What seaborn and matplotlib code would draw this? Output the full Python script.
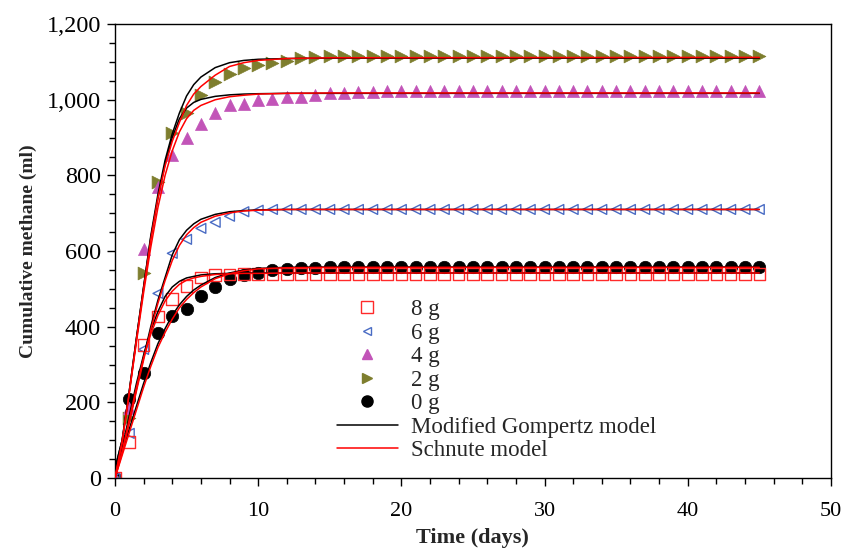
import matplotlib
matplotlib.use("Agg")
import matplotlib.pyplot as plt
from matplotlib.lines import Line2D
from matplotlib.ticker import MultipleLocator, FuncFormatter
import seaborn as sns

# ---- measured data (days 0..45) ----
days = list(range(46))
g8 = [0, 96, 351, 427, 474, 507, 530, 536, 538, 539,
      540, 540, 540, 540, 540, 540, 540, 540, 540, 540,
      540, 540, 540, 540, 540, 540, 540, 540, 540, 540,
      540, 540, 540, 540, 540, 540, 540, 540, 540, 540,
      540, 540, 540, 540, 540, 540]
g6 = [0, 118, 340, 488, 594, 631, 660, 676, 692, 704,
      708, 710, 710, 710, 710, 710, 710, 710, 710, 710,
      710, 710, 710, 710, 710, 710, 710, 710, 710, 710,
      710, 710, 710, 710, 710, 710, 710, 710, 710, 710,
      710, 710, 710, 710, 710, 710]
g4 = [0, 186, 605, 770, 854, 900, 937, 964, 985, 989,
      999, 1001, 1006, 1008, 1012, 1017, 1018, 1020, 1021, 1022,
      1022, 1022, 1022, 1022, 1022, 1022, 1022, 1022, 1022, 1022,
      1022, 1022, 1022, 1022, 1022, 1022, 1022, 1022, 1022, 1022,
      1022, 1022, 1022, 1022, 1022, 1022]
g2 = [0, 158, 541, 783, 911, 964, 1012, 1047, 1068, 1083,
      1092, 1098, 1103, 1110, 1114, 1116, 1116, 1116, 1116, 1116,
      1116, 1116, 1116, 1116, 1116, 1116, 1116, 1116, 1116, 1116,
      1116, 1116, 1116, 1116, 1116, 1116, 1116, 1116, 1116, 1116,
      1116, 1116, 1116, 1116, 1116, 1116]
g0 = [0, 210, 278, 384, 429, 448, 481, 504, 525, 537,
      541, 550, 553, 555, 556, 557, 558, 558, 558, 558,
      558, 558, 558, 558, 558, 558, 558, 558, 558, 558,
      558, 558, 558, 558, 558, 558, 558, 558, 558, 558,
      558, 558, 558, 558, 558, 558]

# ---- model curves ----
t_fit = [0, 0.5, 1, 1.5, 2, 2.5, 3, 3.5, 4, 4.5, 5, 5.5, 6, 7, 8, 9, 10, 12, 15, 45]
gomp_g2 = [25, 100, 230, 370, 505, 640, 750, 840, 910, 965, 1010, 1040, 1060, 1085, 1098, 1104, 1107, 1109, 1110, 1110]
schn_g2 = [0, 95, 225, 365, 500, 630, 740, 825, 890, 940, 985, 1015, 1035, 1065, 1088, 1098, 1104, 1109, 1111, 1112]
gomp_g4 = [25, 100, 230, 370, 505, 635, 740, 830, 900, 950, 978, 993, 1001, 1009, 1013, 1015, 1016, 1017, 1017, 1017]
schn_g4 = [0, 95, 225, 360, 490, 610, 715, 800, 865, 915, 950, 972, 985, 1000, 1008, 1012, 1015, 1017, 1018, 1018]
gomp_g6 = [20, 75, 150, 235, 320, 400, 470, 530, 590, 630, 655, 672, 684, 697, 704, 707, 709, 710, 710, 710]
schn_g6 = [0, 65, 145, 230, 312, 392, 462, 522, 575, 615, 643, 662, 676, 692, 701, 706, 708, 710, 710, 710]
gomp_g8 = [20, 80, 165, 250, 325, 390, 440, 480, 505, 520, 529, 533, 537, 540, 541, 542, 542, 542, 542, 542]
schn_g8 = [0, 70, 155, 240, 318, 380, 430, 468, 494, 512, 523, 529, 533, 538, 540, 541, 541, 542, 542, 542]
gomp_g0 = [20, 70, 130, 190, 250, 305, 355, 395, 430, 458, 480, 497, 510, 530, 542, 550, 554, 557, 558, 558]
schn_g0 = [0, 60, 120, 180, 240, 295, 345, 385, 420, 450, 472, 490, 505, 527, 540, 548, 553, 556, 557, 557]

labels = ["8 g", "6 g", "4 g", "2 g", "0 g", "Modified Gompertz model", "Schnute model"]

sns.set_style("ticks")
plt.rcParams["font.family"] = ["Liberation Serif", "DejaVu Serif"]

fig = plt.figure(figsize=(8.41, 5.48), dpi=100)
ax = fig.add_axes([0.1367, 0.1277, 0.988 - 0.1367, 0.956 - 0.1277])

c_red = "#ff2a2a"
c_blue = "#4a6cc4"
c_mag = "#c254b8"
c_olive = "#7e7e2e"

# markers
sns.scatterplot(x=days, y=g0, ax=ax, marker="o", s=80, color="black", edgecolor="black", linewidth=0.5, zorder=2)
sns.scatterplot(x=days, y=g2, ax=ax, marker=">", s=85, color=c_olive, edgecolor=c_olive, linewidth=0.5, zorder=2)
sns.scatterplot(x=days, y=g4, ax=ax, marker="^", s=75, color=c_mag, edgecolor=c_mag, linewidth=0.5, zorder=2)
sns.scatterplot(x=days, y=g6, ax=ax, marker="<", s=50, color=c_blue, edgecolor=c_blue, linewidth=1.0, zorder=2)
ax.collections[-1].set_facecolor("none")
sns.scatterplot(x=days, y=g8, ax=ax, marker="s", s=70, color=c_red, edgecolor=c_red, linewidth=1.0, zorder=2)
ax.collections[-1].set_facecolor("none")

# model curves
for yy in [gomp_g2, gomp_g4, gomp_g6, gomp_g8, gomp_g0]:
    sns.lineplot(x=t_fit, y=yy, ax=ax, color="black", lw=1.1, estimator=None, sort=False, zorder=3)
for yy in [schn_g2, schn_g4, schn_g6, schn_g8, schn_g0]:
    sns.lineplot(x=t_fit, y=yy, ax=ax, color="red", lw=1.1, estimator=None, sort=False, zorder=4)

ax.set_xlim(0, 50)
ax.set_ylim(0, 1200)
ax.xaxis.set_major_locator(MultipleLocator(10))
ax.xaxis.set_minor_locator(MultipleLocator(2))
ax.yaxis.set_major_locator(MultipleLocator(200))
ax.yaxis.set_minor_locator(MultipleLocator(50))
ax.yaxis.set_major_formatter(FuncFormatter(lambda v, p: f"{int(v):,}"))
ax.tick_params(which="major", length=6, width=1, direction="out",
               color="black", labelcolor="black")
ax.tick_params(axis="y", which="major", labelsize=17.5, pad=4)
ax.tick_params(axis="x", which="major", labelsize=16, pad=11)
ax.tick_params(which="minor", length=4, width=1, direction="out", color="black")
for sp in ax.spines.values():
    sp.set_visible(True)
    sp.set_color("black")
    sp.set_linewidth(1.0)

ax.set_xlabel("Time (days)", fontsize=16, fontweight="bold", labelpad=5)
ax.set_ylabel("Cumulative methane (ml)", fontsize=14, fontweight="bold", labelpad=7)

handles = [
    Line2D([], [], ls="none", marker="s", ms=8, mfc="none", mec=c_red, mew=1.0),
    Line2D([], [], ls="none", marker="<", ms=6, mfc="none", mec=c_blue, mew=1.0),
    Line2D([], [], ls="none", marker="^", ms=7, mfc=c_mag, mec=c_mag),
    Line2D([], [], ls="none", marker=">", ms=7, mfc=c_olive, mec=c_olive),
    Line2D([], [], ls="none", marker="o", ms=8, mfc="black", mec="black"),
    Line2D([], [], color="black", lw=1.1),
    Line2D([], [], color="red", lw=1.1),
]
fig.legend(handles, labels, loc="upper left", bbox_to_anchor=(337 / 841, 1 - 299 / 548),
           frameon=False, fontsize=16.5, handlelength=2.65, handletextpad=0.6,
           labelspacing=0.11, borderpad=0, borderaxespad=0)

fig.savefig("out.png", dpi=100)
